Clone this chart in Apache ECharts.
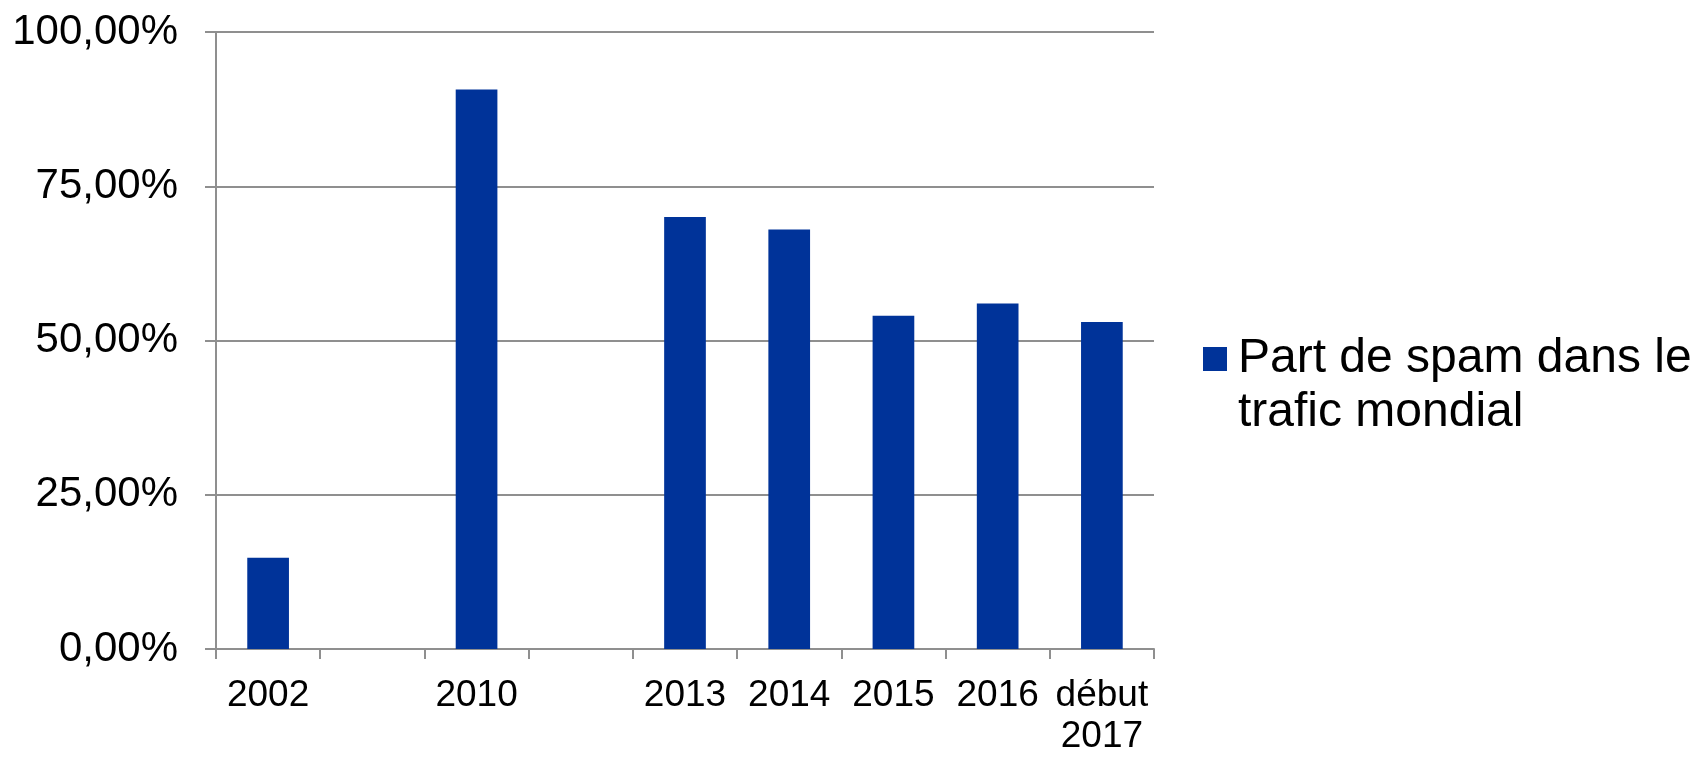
<!DOCTYPE html>
<html>
<head>
<meta charset="utf-8">
<script src="https://cdn.jsdelivr.net/npm/echarts@6/dist/echarts.min.js"></script>
<style>
html,body{margin:0;padding:0;background:#fff;}
#chart{width:1696px;height:757px;}
</style>
</head>
<body>
<div id="chart"></div>
<script>
const categories = ['2002', '', '2010', ' ', '2013', '2014', '2015', '2016', 'début\n2017'];
const spamShare = [14.8, null, 90.7, null, 70, 68, 54, 56, 53];
const seriesName = 'Part de spam dans le trafic mondial';
const legendLabel = ' \nPart de spam dans le\ntrafic mondial';
const yTicks = [0, 25, 50, 75, 100];

const chart = echarts.init(document.getElementById('chart'));
const lineColor = '#8f8f8f';
chart.setOption({
  animation: false,
  backgroundColor: '#ffffff',
  textStyle: { fontFamily: 'Liberation Sans, Arial, sans-serif' },
  grid: { left: 216, right: 542, top: 32, bottom: 102.5 },
  legend: {
    orient: 'vertical',
    left: 1198,
    top: 273,
    itemWidth: 24,
    itemHeight: 24,
    icon: 'rect',
    data: [seriesName],
    formatter: function () { return legendLabel; },
    textStyle: {
      fontSize: 48,
      lineHeight: 54,
      color: '#000',
      fontFamily: 'Liberation Sans, Arial, sans-serif',
      padding: [0, 0, 0, 6]
    }
  },
  xAxis: {
    type: 'category',
    data: categories,
    boundaryGap: true,
    axisLine: { show: true, lineStyle: { color: lineColor, width: 2 } },
    axisTick: { show: true, length: 10, lineStyle: { color: lineColor, width: 2 } },
    axisLabel: {
      interval: 0,
      fontSize: 37,
      lineHeight: 41,
      color: '#000',
      margin: 26,
      fontFamily: 'Liberation Sans, Arial, sans-serif'
    },
    splitLine: { show: false }
  },
  yAxis: {
    type: 'value',
    min: yTicks[0],
    max: yTicks[yTicks.length - 1],
    interval: 25,
    axisLine: { show: true, lineStyle: { color: lineColor, width: 2 } },
    axisTick: { show: true, length: 11, lineStyle: { color: lineColor, width: 2 } },
    axisLabel: {
      fontSize: 42,
      color: '#000',
      margin: 38,
      fontFamily: 'Liberation Sans, Arial, sans-serif',
      formatter: function (v) { return v.toFixed(2).replace('.', ',') + '%'; }
    },
    splitLine: { show: true, lineStyle: { color: lineColor, width: 2 } }
  },
  series: [{
    name: seriesName,
    type: 'bar',
    data: spamShare,
    barWidth: '40%',
    itemStyle: { color: '#003399' }
  }]
});
</script>
</body>
</html>
